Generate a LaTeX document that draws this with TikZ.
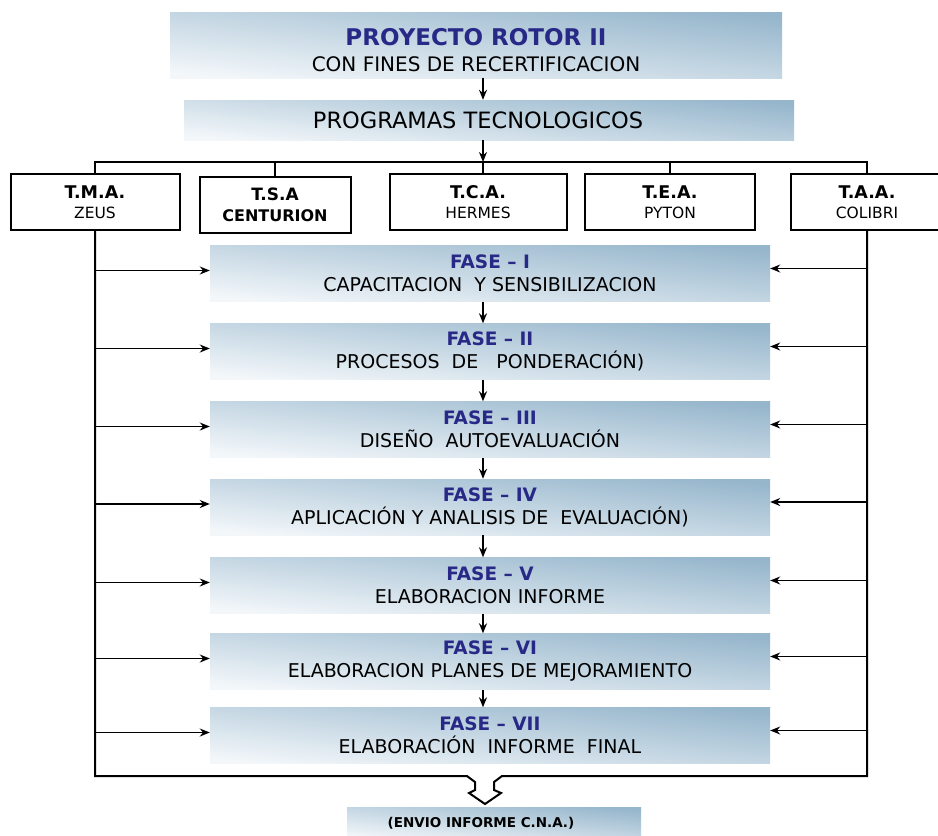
\documentclass[tikz,border=0pt]{standalone}
\usepackage{fontspec}
\setmainfont{DejaVu Sans}
\usetikzlibrary{arrows.meta, calc}
\definecolor{cajaazul}{RGB}{150,182,204}
\definecolor{cajaclaro}{RGB}{243,247,250}
\definecolor{titulo}{RGB}{40,40,135}
\tikzset{
  caja/.style={top color=cajaazul, bottom color=cajaclaro, shading angle=-6, inner sep=0pt, align=center},
  fase/.style={caja, minimum width=560pt, minimum height=56pt, font=\fontsize{19}{23}\selectfont},
  prog/.style={draw, line width=2pt, fill=white, minimum height=56pt, inner sep=0pt, align=center, font=\fontsize{15.5}{20}\selectfont},
  flecha/.style={-{Stealth[length=10pt,width=8pt]}, line width=1.5pt},
  linea/.style={line width=2pt},
}

\begin{document}
\begin{tikzpicture}[x=1pt, y=-1pt]
  \useasboundingbox (0,0) rectangle (938,836);
  \coordinate (eje) at (483,0);
  \coordinate (ramal) at (483,162);

  % cabecera
  \node[caja, minimum width=612pt, minimum height=66pt, font=\fontsize{20}{26}\selectfont] (rotor) at (476,45)
    {\rule{0pt}{28pt}{\fontsize{23}{26}\selectfont\bfseries\color{titulo}PROYECTO ROTOR II}\\
     CON FINES DE RECERTIFICACION};
  \node[caja, minimum width=610pt, minimum height=40pt, font=\fontsize{22.5}{26}\selectfont] (progs) at (489,120) {PROGRAMAS TECNOLOGICOS\hspace*{22pt}};
  \draw[flecha] (rotor.south -| eje) -- (progs.north -| eje);
  \draw[flecha] (progs.south -| eje) -- (ramal);

  % programas
  \node[prog, minimum width=169pt] (tma) at (95,202) {\textbf{\fontsize{17.5}{20}\selectfont T.M.A.}\\ZEUS};
  \node[prog, minimum width=151pt, font=\fontsize{16}{21}\selectfont\bfseries] (tsa) at (275,205) {{\fontsize{17}{20}\selectfont T.S.A}\\CENTURION};
  \node[prog, minimum width=177pt] (tca) at (478,202) {\textbf{\fontsize{17.5}{20}\selectfont T.C.A.}\\HERMES};
  \node[prog, minimum width=170pt] (tea) at (670,202) {\textbf{\fontsize{17.5}{20}\selectfont T.E.A.}\\PYTON};
  \node[prog, minimum width=152pt] (taa) at (867,202) {\textbf{\fontsize{17.5}{20}\selectfont T.A.A.}\\COLIBRI};
  \draw[linea] (tma.north) -- (tma.north |- ramal) -- (taa.north |- ramal) -- (taa.north);
  \foreach \p in {tsa, tea}
    \draw[linea] (\p.north) -- (\p.north |- ramal);
  \draw[linea] (tca.north -| eje) -- (ramal);

  % marco y flecha hueca
  \draw[linea, line join=miter] (tma.south) |- (467,776) -- (475,782) -- (475,790) -- (469,793)
    -- (485,804) -- (501,793) -- (494,790) -- (494,782) -- (502,776) -| (taa.south);

  % fases
  \foreach \n/\yc/\sub [count=\i] in {
      I/273.5/{CAPACITACION\ \ Y SENSIBILIZACION},
      II/351.5/{PROCESOS\ \ DE\ \ \ PONDERACIÓN)},
      III/429.5/{DISEÑO\ \ AUTOEVALUACIÓN},
      IV/507/{APLICACIÓN Y ANALISIS DE\ \ EVALUACIÓN)},
      V/585.5/{ELABORACION INFORME},
      VI/661.5/{ELABORACION PLANES DE MEJORAMIENTO},
      VII/735.5/{ELABORACIÓN\ \ INFORME\ \ FINAL}}{
    \node[fase] (f\i) at (490,\yc) {{\fontsize{18.5}{23}\selectfont\bfseries\color{titulo}FASE -- \n}\\\sub};
    \draw[flecha] ([yshift=3pt]f\i.west -| tma.south) -- ([yshift=3pt]f\i.west);
    \draw[flecha] ([yshift=5pt]f\i.east -| taa.south) -- ([yshift=5pt]f\i.east);
  }
  \foreach \i [evaluate=\i as \j using int(\i+1)] in {1,...,6}
    \draw[flecha] (f\i.south -| eje) -- (f\j.north -| eje);

  \node[caja, minimum width=294pt, minimum height=32pt, font=\fontsize{13.5}{15}\selectfont\bfseries] (cna) at (494,823) {(ENVIO INFORME C.N.A.)\hspace*{26pt}};
\end{tikzpicture}
\end{document}
